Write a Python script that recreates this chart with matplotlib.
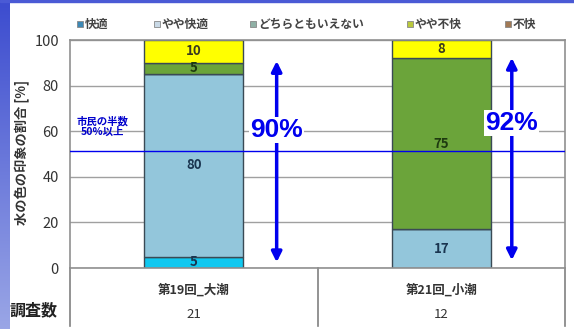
import matplotlib
matplotlib.use("Agg")
import matplotlib.pyplot as plt
import numpy as np
from matplotlib.patches import Rectangle, FancyArrowPatch
from matplotlib.colors import LinearSegmentedColormap

plt.rcParams['font.family'] = ['Noto Sans CJK JP', 'DejaVu Sans']

categories = ['第19回_大潮', '第21回_小潮']
counts = ['21', '12']
series_names = ['快適', 'やや快適', 'どちらともいえない', 'やや不快', '不快']
values = {
    '快適': [5, 0],
    'やや快適': [80, 17],
    'どちらともいえない': [0, 0],
    'やや不快': [5, 75],
    '不快': [10, 8],
}
bar_colors = {
    '快適': '#10C8F0',
    'やや快適': '#93C6DB',
    'どちらともいえない': '#FFFFFF',
    'やや不快': '#6BA43A',
    '不快': '#FFFF00',
}
label_colors = {
    '快適': '#1A3550',
    'やや快適': '#1A3550',
    'どちらともいえない': '#333333',
    'やや不快': '#1E3A10',
    '不快': '#3A3A20',
}
legend_colors = ['#3D88B5', '#C9D9E6', '#8FB0A5', '#B9C83C', '#A27A55']
totals_pct = ['90%', '92%']
yticks = [0, 20, 40, 60, 80, 100]

W, H = 574, 329
fig = plt.figure(figsize=(W/100, H/100), dpi=100)
fig.patch.set_facecolor('white')

# left gradient strip and top line
gax = fig.add_axes([0, 0, 10/W, 1])
grad = np.linspace(0, 1, 256).reshape(-1, 1)
cmap = LinearSegmentedColormap.from_list('g', ['#3C4CCF', '#9AA6E6'])
gax.imshow(grad, aspect='auto', cmap=cmap)
gax.axis('off')
fig.patches.append(Rectangle((0, 1-2/H), 1, 2/H, transform=fig.transFigure,
                             color='#4A5AD5', zorder=5))

x0, x1 = 70, 565
ytop, ybot = 40, 268
ax = fig.add_axes([x0/W, (H-ybot)/H, (x1-x0)/W, (ybot-ytop)/H])
ax.set_xlim(-0.5, 1.5)
ax.set_ylim(0, 100)
ax.set_yticks(yticks)
ax.set_yticklabels([str(t) for t in yticks], fontsize=10.5, color='#333333')
ax.tick_params(axis='y', length=0, pad=8)
ax.set_xticks([])
ax.yaxis.grid(True, color='#A0A0A0', linewidth=1)
ax.set_axisbelow(True)
for s in ax.spines.values():
    s.set_color('#909090')
    s.set_linewidth(1.2)

x = np.arange(len(categories))
bottom = np.zeros(len(categories))
for name in series_names:
    v = np.array(values[name], dtype=float)
    ax.bar(x, v, 0.4, bottom=bottom, color=bar_colors[name],
           edgecolor='#3A4A55', linewidth=1, zorder=2)
    for i in range(len(x)):
        if v[i] > 0:
            ax.text(x[i], bottom[i] + v[i]/2, f'{int(v[i])}', ha='center', va='center',
                    fontsize=9.5, color=label_colors[name], zorder=3, fontweight='bold')
    bottom += v

# threshold line
ax.axhline(51.5, color='#0000EE', linewidth=1, zorder=4)
ax.text(-0.37, 62, '市民の半数\n50%以上', ha='center', va='center', fontsize=7.5,
        color='#0000CC', fontweight='bold', linespacing=1.05, zorder=5)

# arrows and percentages
arrow_x = [0.335, 1.285]
arrow_ends = [(1.3, 92), (2.2, 93.4)]
pct_y = [60.5, 63.6]
for i, ax_x in enumerate(arrow_x):
    ar = FancyArrowPatch((ax_x, arrow_ends[i][0]), (ax_x, arrow_ends[i][1]),
                         arrowstyle='<|-|>', mutation_scale=15,
                         color='#0000EE', linewidth=2.5, zorder=5)
    ax.add_patch(ar)
    ax.text(ax_x, pct_y[i], totals_pct[i], ha='center', va='center',
            fontsize=19, color='#0000EE', zorder=6, fontweight='bold',
            family=['Liberation Sans', 'DejaVu Sans'],
            bbox=dict(facecolor='white', edgecolor='none', pad=1))

# table below
trans = ax.transAxes
tb = -58/228
for xv in [0, 0.5, 1.0]:
    ax.plot([xv, xv], [0, tb], transform=trans, color='#808080', linewidth=1.2, clip_on=False)
for i, (c, n) in enumerate(zip(categories, counts)):
    xc = (i + 0.5) / 2
    ax.text(xc, -22/228, c, transform=trans, ha='center', va='center', fontsize=9,
            color='#333333', fontweight='bold')
    ax.text(xc, -47/228, n, transform=trans, ha='center', va='center', fontsize=9.5,
            color='#333333')
fig.text(33/W, 1-310/H, '調査数', ha='center', va='center', fontsize=11.5,
         fontweight='bold', color='#222222')

# y label
fig.text(22/W, 1-152/H, '水の色の印象の割合 [%]', rotation=90, ha='center', va='center',
         fontsize=9.5, fontweight='bold', color='#333333')

# legend
leg_x = [80, 157, 253, 410, 508]
leg_y = 1 - 24/H
for lx, name, col in zip(leg_x, series_names, legend_colors):
    fig.patches.append(Rectangle(((lx-3)/W, leg_y - 3/H), 6/W, 6/H, transform=fig.transFigure,
                                 facecolor=col, edgecolor='#888888', linewidth=0.6))
    fig.text((lx+5)/W, leg_y, name, ha='left', va='center', fontsize=8.5, fontweight='bold',
             color='#444444')

fig.savefig('out.png', dpi=100)
